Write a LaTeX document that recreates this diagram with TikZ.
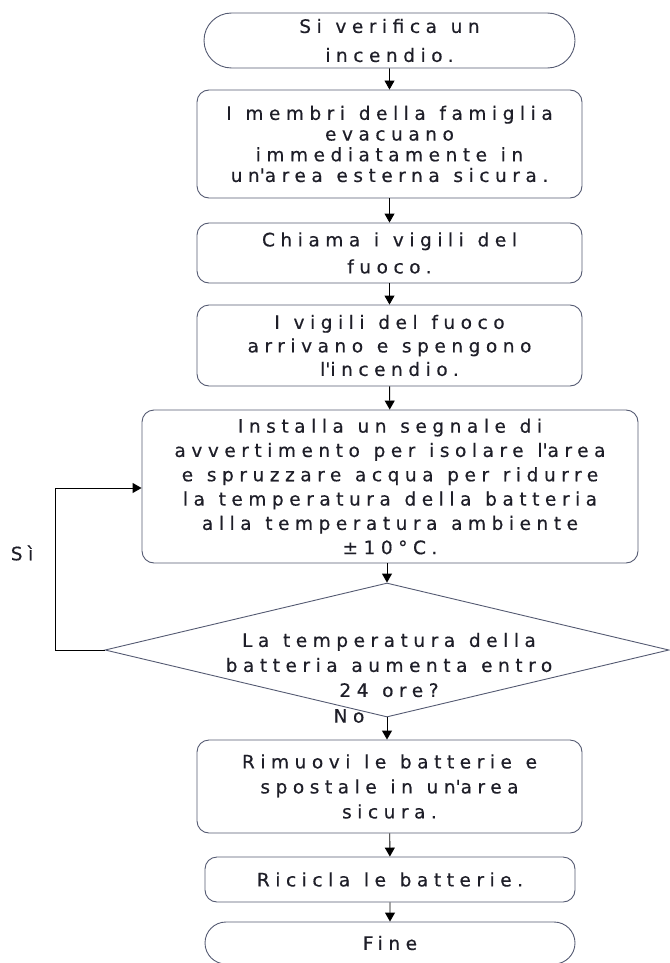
\documentclass[tikz,border=0pt]{standalone}
\usepackage{fontspec}
\setmainfont{DejaVu Sans}[LetterSpace=30, WordSpace=1.2, FakeBold=0.5]
\usepackage{tikz}
\usetikzlibrary{shapes.geometric,shapes.misc,arrows.meta}
\definecolor{edge}{HTML}{545A72}
\definecolor{ink}{HTML}{1E1E28}
\makeatletter
\renewcommand\small{%
  \@setfontsize\small{18.5pt}{24.5pt}%
}
\makeatother
\newcommand\apo{\textquotesingle}

\begin{document}
\begin{tikzpicture}[x=1pt, y=-1pt, >={Triangle[width=10pt,length=9pt]},
  every node/.style={font=\small, text=ink, align=center},
  lsp/.style={font=\fontsize{18.5pt}{#1pt}\selectfont},
  flowbox/.style={draw=edge, line width=0.9pt, rounded corners=12pt, inner sep=0pt},
  endbox/.style={draw=edge, line width=0.9pt, rounded rectangle, rounded rectangle arc length=180, inner sep=0pt},
  flowline/.style={->, line width=0.9pt, black}]
  \useasboundingbox (0,0) rectangle (669,963);
  \node[endbox, lsp=29, minimum width=371pt, minimum height=55pt] (start) at (389.5,40.5) {Si verifica un\\incendio.};
  \node[flowbox, lsp=20.7, minimum width=385pt, minimum height=108pt] (membri) at (389.5,144) {I membri della famiglia\\evacuano\\immediatamente in\\un\apo area esterna sicura.};
  \node[flowbox, lsp=27, minimum width=385pt, minimum height=60pt] (chiama) at (389.5,253) {Chiama i vigili del\\fuoco.};
  \node[flowbox, lsp=23.5, minimum width=385pt, minimum height=81pt] (vigili) at (389.5,345.5) {I vigili del fuoco\\arrivano e spengono\\l\apo incendio.};
  \node[flowbox, lsp=24.3, minimum width=496pt, minimum height=153pt] (installa) at (390,486.5) {Installa un segnale di\\avvertimento per isolare l\apo area\\e spruzzare acqua per ridurre\\la temperatura della batteria\\alla temperatura ambiente\\±10°C.};
  \node[diamond, draw=edge, line width=0.9pt, minimum width=564pt, minimum height=134pt, inner sep=0pt] (dec) at (387,650) {};
  \node[lsp=25] (dectext) at (389,665) {La temperatura della\\batteria aumenta entro\\24 ore?};
  \node[flowbox, lsp=25, minimum width=385pt, minimum height=93pt] (rimuovi) at (389.5,786.5) {Rimuovi le batterie e\\spostale in un\apo area\\sicura.};
  \node[flowbox, minimum width=370pt, minimum height=45pt] (ricicla) at (390,879.5) {Ricicla le batterie.};
  \node[endbox, minimum width=370pt, minimum height=42pt] (fine) at (390,943) {Fine};
  \node (si) at (22,553) {Sì};
  \node (no) at (349,716) {No};
  \coordinate (siloop) at (55,488);
  \draw[flowline] (start) -- (membri);
  \draw[flowline] (membri) -- (chiama);
  \draw[flowline] (chiama) -- (vigili);
  \draw[flowline] (vigili) -- (installa);
  \draw[flowline] (installa.south -| dec.north) -- (dec.north);
  \draw[flowline] (dec.south) -- (dec.south |- rimuovi.north);
  \draw[flowline] (rimuovi) -- (ricicla);
  \draw[flowline] (ricicla) -- (fine);
  \draw[flowline] (dec.west) -| (siloop) -- (siloop -| installa.west);
\end{tikzpicture}
\end{document}
